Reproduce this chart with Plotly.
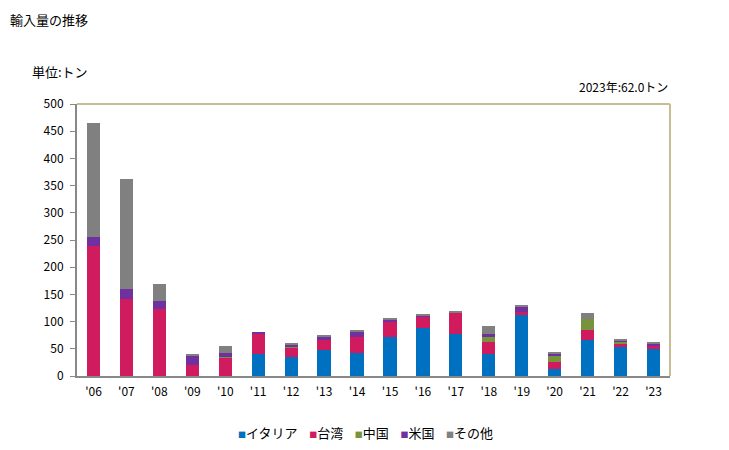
import plotly.graph_objects as go

# data (tons)
years = ["'06", "'07", "'08", "'09", "'10", "'11", "'12", "'13", "'14",
         "'15", "'16", "'17", "'18", "'19", "'20", "'21", "'22", "'23"]
italy = [0, 0, 0, 0, 0, 41, 35, 48, 42, 72, 89, 78, 41, 112, 13, 66, 53, 50]
taiwan = [239, 141, 123, 20, 34, 37.5, 18, 18, 30, 27.5, 19.5, 38, 21.5, 5.5, 13, 18.5, 7.5, 6]
china = [0, 0, 0, 0, 1.5, 0, 2, 0, 0, 0, 0, 0, 11, 0, 11, 20, 2, 0]
usa = [16, 19, 15, 18, 7, 2.5, 2, 6, 9, 3.5, 2, 0, 3.5, 9, 3.7, 0, 2, 4]
other = [211, 202, 31, 2, 12, 0, 4, 2, 2, 2, 2, 2, 15, 3.7, 2, 11, 2, 2]

series = [
    ("イタリア", italy, "#0070C0"),
    ("台湾", taiwan, "#D01C5E"),
    ("中国", china, "#77933C"),
    ("米国", usa, "#7030A0"),
    ("その他", other, "#808080"),
]

font = "Noto Sans CJK JP"

fig = go.Figure()
for name, vals, color in series:
    fig.add_trace(go.Bar(x=years, y=vals, name=name, marker=dict(color=color, line=dict(width=0))))

# the page body adds an 8px margin, so the figure is sized 8px smaller
fig.update_layout(
    barmode="stack",
    bargap=0.6,
    width=721, height=442,
    margin=dict(l=69, r=59, t=96, b=74, autoexpand=False),
    paper_bgcolor="white", plot_bgcolor="white",
    font=dict(family=font, size=12, color="#000000"),
    showlegend=False,
    xaxis=dict(showline=True, linecolor="#888888", linewidth=2, ticks="outside",
               ticklen=4, tickcolor="rgba(0,0,0,0)", tickfont=dict(size=12)),
    yaxis=dict(range=[0, 500], dtick=50, showgrid=False, showline=True,
               linecolor="#888888", linewidth=2, ticks="outside", ticklen=5,
               tickcolor="#888888", tickfont=dict(size=12), ticklabelstandoff=4),
)

# top and right plot border
fig.add_shape(type="line", xref="paper", yref="paper", x0=0, x1=1, y0=1, y1=1,
              line=dict(color="#C8BE96", width=2))
fig.add_shape(type="line", xref="paper", yref="paper", x0=1, x1=1, y0=0, y1=1,
              line=dict(color="#C8BE96", width=2))

fig.add_annotation(text="輸入量の推移", xref="paper", yref="paper", x=-69 / 593, y=1 + 96 / 272,
                   xanchor="left", yanchor="top", showarrow=False, font=dict(size=13))
fig.add_annotation(text="単位:トン", xref="paper", yref="paper", x=-47 / 593, y=1 + 32 / 272,
                   xanchor="left", yanchor="middle", showarrow=False, font=dict(size=13))
fig.add_annotation(text="2023年:62.0トン", xref="paper", yref="paper", x=1, y=1 + 18 / 272,
                   xanchor="right", yanchor="middle", showarrow=False, font=dict(size=12))

# compact legend like the original: small coloured square right before the name
legend_text = "\u00a0\u00a0\u00a0\u00a0".join(
    f"<span style='color:{color};font-size:8px'>■</span>{name}" for name, _, color in series
)
fig.add_annotation(text=legend_text, xref="paper", yref="paper", x=(365 - 77) / 593,
                   y=-56 / 272, xanchor="center", yanchor="middle", showarrow=False,
                   font=dict(size=13))

fig.write_html("out.html")
